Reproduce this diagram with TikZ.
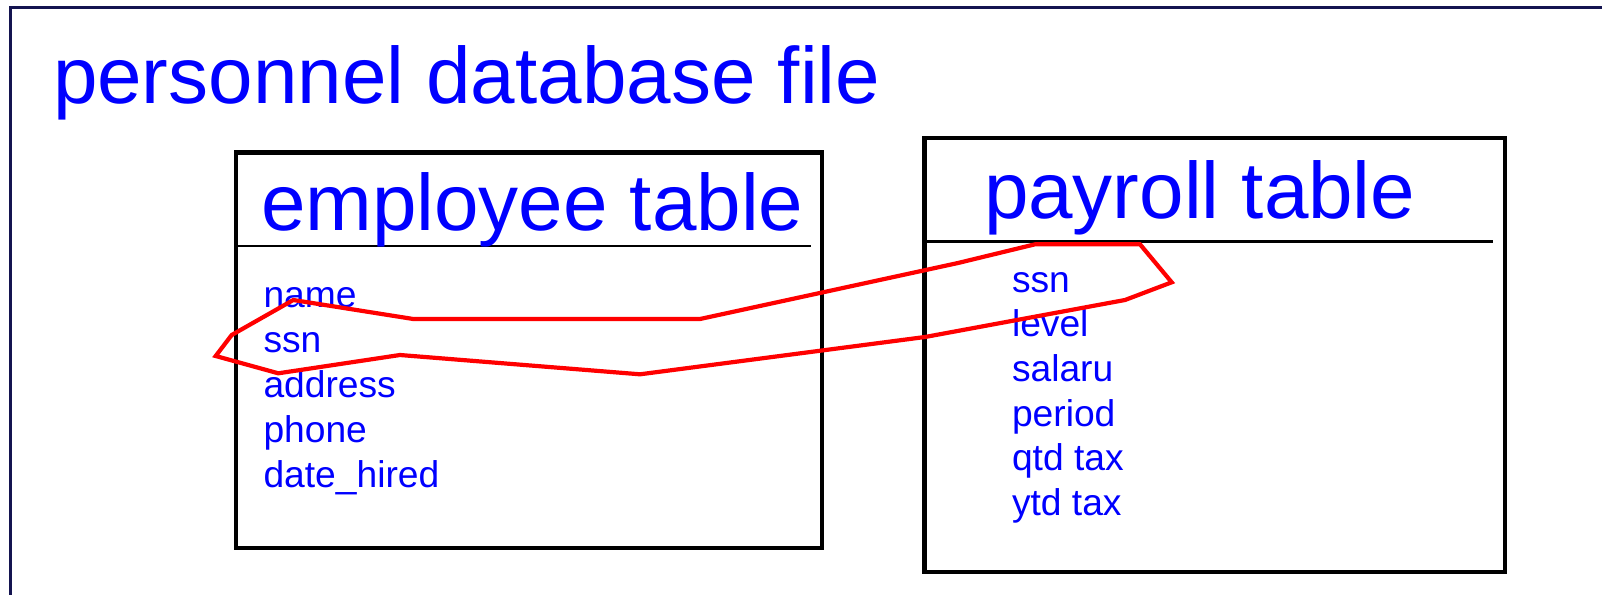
\documentclass[tikz,border=0pt]{standalone}
\usepackage{fontspec}
\setmainfont{Liberation Sans}
\definecolor{framecol}{RGB}{20,20,80}
\definecolor{txtblue}{RGB}{0,0,255}
\definecolor{loopred}{RGB}{255,0,0}
\tikzset{
  txt/.style={inner sep=0pt, outer sep=0pt, anchor=base west, text=txtblue},
  bigtxt/.style={txt, font=\fontsize{80}{90}\selectfont},
  itemtxt/.style={txt, font=\fontsize{37.2}{44}\selectfont},
  tablebox/.style={draw=black, line width=4.5pt, inner sep=0pt, outer sep=0pt, anchor=north west},
  sepline/.style={draw=black, line width=2.5pt},
  frameline/.style={draw=framecol, line width=3pt},
  loopline/.style={draw=loopred, line width=4.2pt, line join=miter}
}
\begin{document}
\begin{tikzpicture}[x=1pt,y=-1pt]
\useasboundingbox (0,0) rectangle (1602,594);
% outer frame (extends past right and bottom edges)
\draw[frameline] (10.3,600) -- (10.3,7.5) -- (1610,7.5);
% title
\node[bigtxt] (title) at (53,103) {personnel database file};
% employee table
\node[tablebox, minimum width=586pt, minimum height=395.5pt] (emp) at (236,152.5) {};
\coordinate (empsepR) at (810.7,246);
\draw[sepline] (emp.west |- empsepR) -- (empsepR);
\node[bigtxt] (emptitle) at (261,230) {employee table};
\foreach \t [count=\i from 0] in {name,ssn,address,phone,date\_hired}
  \node[itemtxt] (empitem\i) at (263.5,307+45*\i) {\t};
% payroll table
\node[tablebox, minimum width=580.5pt, minimum height=434pt] (pay) at (924.5,138) {};
\coordinate (paysepR) at (1493.3,241.5);
\draw[sepline] (pay.west |- paysepR) -- (paysepR);
\node[bigtxt] (paytitle) at (984,218.5) {payroll table};
\foreach \t [count=\i from 0] in {ssn,level,salaru,period,qtd tax,ytd tax}
  \node[itemtxt] (payitem\i) at (1012,292+44.7*\i) {\t};
% red loop linking the ssn fields
\draw[loopline] (215.7,356) -- (231.7,335) -- (293.3,300) -- (413.3,319)
  -- (700,319) -- (958,263) -- (1035,244.3) -- (1140,244.3) -- (1171.7,282.3)
  -- (1125,300) -- (925,337) -- (640,374.3) -- (400,355) -- (278.3,373.3) -- cycle;
\end{tikzpicture}
\end{document}
